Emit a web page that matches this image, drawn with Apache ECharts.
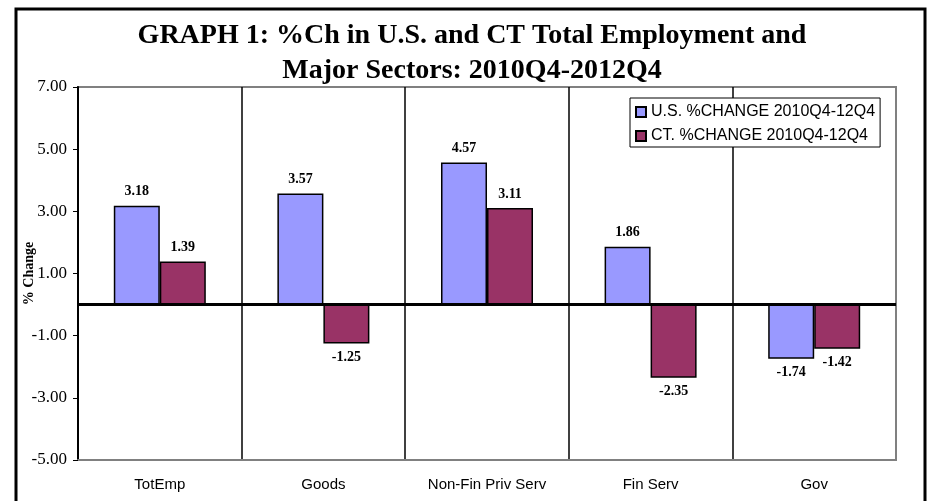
<!DOCTYPE html>
<html>
<head>
<meta charset="utf-8">
<script src="https://cdn.jsdelivr.net/npm/echarts@6/dist/echarts.min.js"></script>
<style>
html,body{margin:0;padding:0;background:#fff;}
#chart{width:927px;height:501px;}
</style>
</head>
<body>
<div id="chart"></div>
<script>
const categories = ['TotEmp', 'Goods', 'Non-Fin Priv Serv', 'Fin Serv', 'Gov'];
const usValues = [3.18, 3.57, 4.57, 1.86, -1.74];
const ctValues = [1.39, -1.25, 3.11, -2.35, -1.42];
const seriesNames = ['U.S. %CHANGE 2010Q4-12Q4', 'CT. %CHANGE 2010Q4-12Q4'];
const titleText = 'GRAPH 1: %Ch in U.S. and CT Total Employment and\nMajor Sectors: 2010Q4-2012Q4';
const yAxisName = '% Change';

const serif = '"Liberation Serif", "Times New Roman", serif';
const sans = '"Liberation Sans", Arial, sans-serif';

function toData(vals) {
  return vals.map(v => ({
    value: v,
    label: { position: v < 0 ? 'bottom' : 'top' }
  }));
}

const labelCfg = {
  show: true,
  distance: 7,
  color: '#000',
  fontFamily: serif,
  fontWeight: 'bold',
  fontSize: 14,
  formatter: p => Number(p.value).toFixed(2)
};

const chart = echarts.init(document.getElementById('chart'), null, { renderer: 'canvas' });
chart.setOption({
  backgroundColor: '#fff',
  animation: false,
  title: {
    text: titleText,
    left: 472,
    top: 18,
    textAlign: 'center',
    padding: 0,
    textStyle: {
      fontFamily: serif,
      fontWeight: 'bold',
      fontSize: 28,
      lineHeight: 35,
      color: '#000'
    }
  },
  legend: {
    orient: 'vertical',
    left: 630,
    top: 98,
    padding: [6, 5, 3, 5],
    itemGap: 8,
    itemWidth: 10,
    itemHeight: 10,
    icon: 'rect',
    backgroundColor: '#fff',
    borderColor: '#000',
    borderWidth: 1,
    textStyle: { fontFamily: sans, fontSize: 16, color: '#000' },
    data: seriesNames
  },
  grid: {
    left: 78,
    right: 31,
    top: 87,
    bottom: 41,
    show: true,
    borderColor: '#808080',
    borderWidth: 2,
    backgroundColor: '#fff'
  },
  xAxis: {
    type: 'category',
    data: categories,
    axisLine: { onZero: false, lineStyle: { color: '#808080', width: 2 } },
    axisTick: { show: false },
    splitLine: { show: true, showMinLine: false, showMaxLine: false, lineStyle: { color: '#000', width: 1.5 } },
    axisLabel: { fontFamily: sans, fontSize: 15, color: '#000', margin: 17 }
  },
  yAxis: {
    type: 'value',
    min: -5,
    max: 7,
    interval: 2,
    name: yAxisName,
    nameLocation: 'middle',
    nameRotate: 90,
    nameGap: 42,
    nameMoveOverlap: false,
    nameTextStyle: { fontFamily: serif, fontWeight: 'bold', fontSize: 14, color: '#000' },
    axisLine: { show: true, lineStyle: { color: '#000', width: 2 } },
    axisTick: { show: true, length: 5, lineStyle: { color: '#000', width: 1 } },
    splitLine: { show: false },
    axisLabel: {
      fontFamily: serif, fontSize: 17, color: '#000', margin: 11,
      formatter: v => v.toFixed(2)
    }
  },
  series: [
    {
      name: seriesNames[0],
      type: 'bar',
      data: toData(usValues),
      barWidth: 46,
      barGap: '0%',
      itemStyle: { color: '#9999FF', borderColor: '#000', borderWidth: 1.5 },
      label: labelCfg,
      markLine: {
        silent: true,
        symbol: ['none', 'none'],
        label: { show: false },
        lineStyle: { color: '#000', width: 3, type: 'solid' },
        data: [{ yAxis: 0 }],
        z: 10
      }
    },
    {
      name: seriesNames[1],
      type: 'bar',
      data: toData(ctValues),
      barWidth: 46,
      barGap: '0%',
      itemStyle: { color: '#993366', borderColor: '#000', borderWidth: 1.5 },
      label: labelCfg
    }
  ],
  graphic: [
    {
      type: 'rect',
      shape: { x: 16, y: 9, width: 909, height: 500 },
      style: { fill: null, stroke: '#000', lineWidth: 3 },
      silent: true,
      z: 100
    }
  ]
});
</script>
</body>
</html>
